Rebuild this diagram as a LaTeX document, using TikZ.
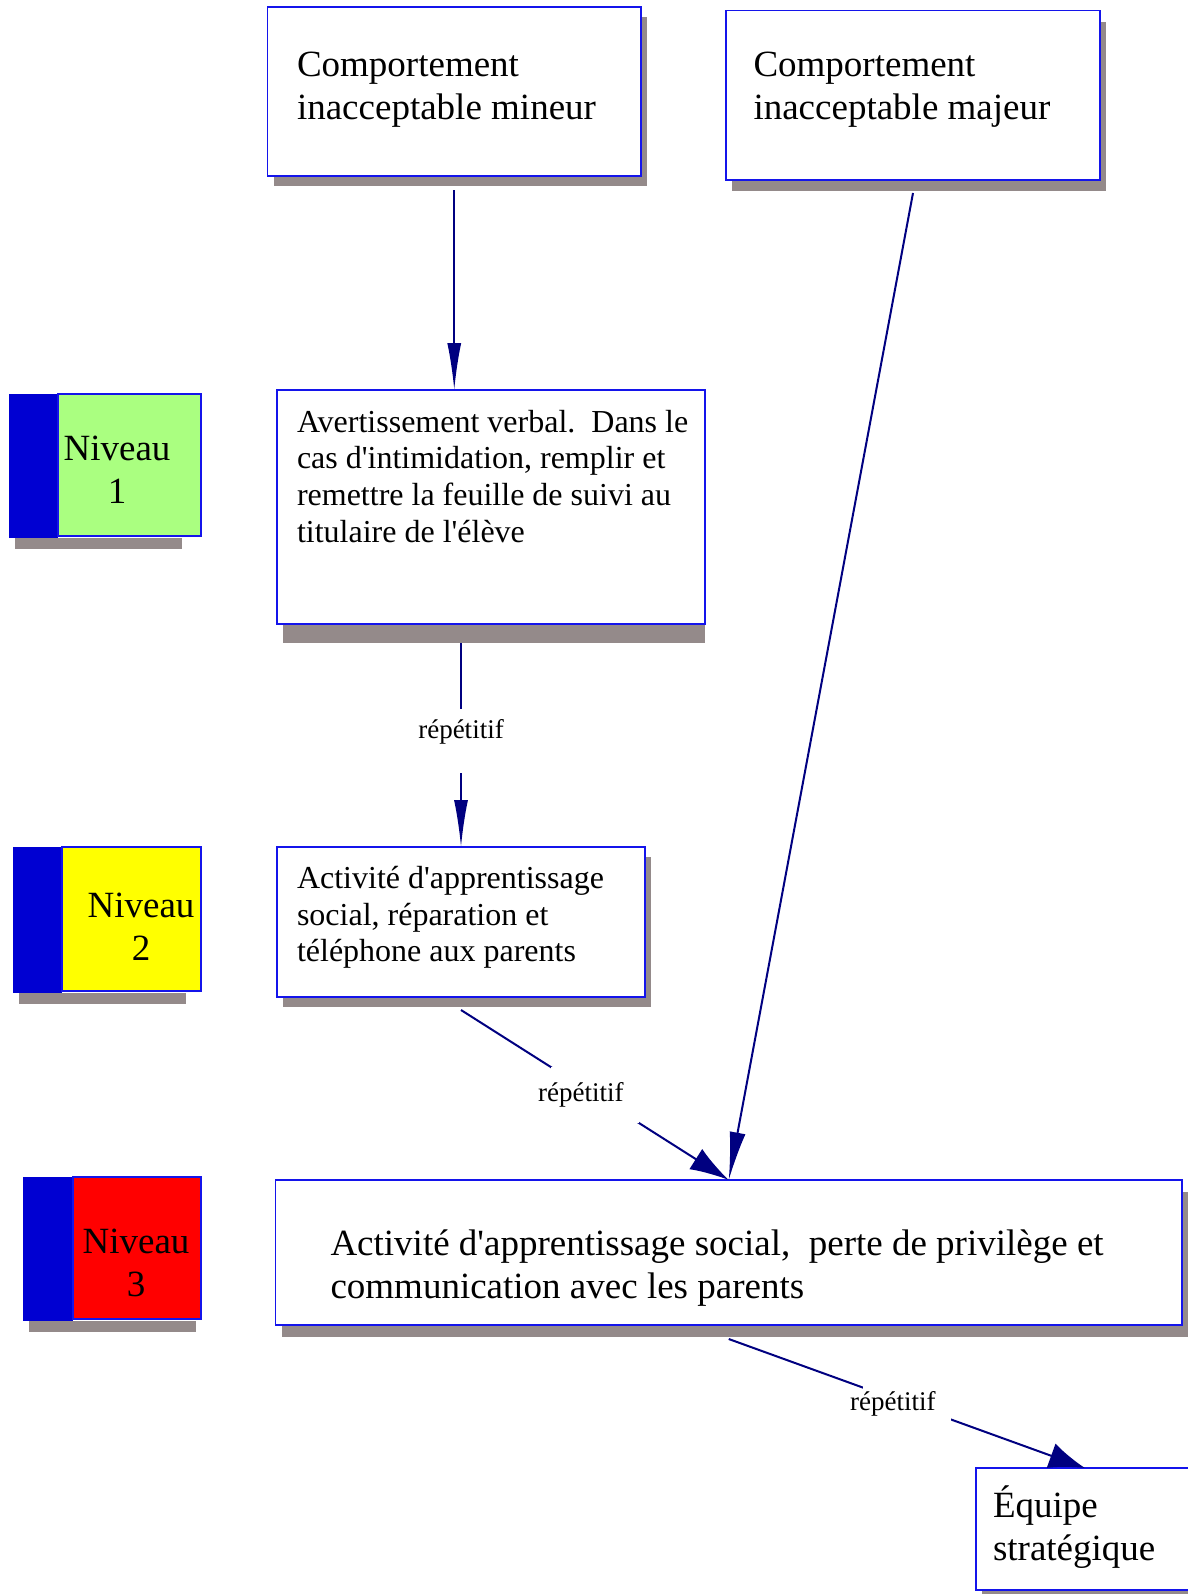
\documentclass[tikz,border=0pt]{standalone}
\usepackage{fontspec}
\setmainfont{Liberation Serif}
\usetikzlibrary{arrows.meta,calc,backgrounds}
\definecolor{boxblue}{RGB}{20,20,235}
\definecolor{flownavy}{RGB}{0,0,128}
\definecolor{shadowgray}{RGB}{148,138,138}
\definecolor{barblue}{RGB}{0,0,210}
\definecolor{lvlgreen}{RGB}{170,255,128}
\definecolor{lvlyellow}{RGB}{255,255,0}
\definecolor{lvlred}{RGB}{255,0,0}
\newcommand{\apos}{\textquotesingle}
\tikzset{
	box/.style={draw=boxblue, fill=white, line width=1.6pt, anchor=north west, align=flush left, inner ysep=0pt, outer sep=0pt},
	bigtext/.style={font=\fontsize{37}{43}\selectfont},
	smalltext/.style={font=\fontsize{32}{36.7}\selectfont},
	flow/.style={draw=flownavy, line width=2pt, -{Latex[#1]}},
	flow/.default={length=47pt,width=14pt},
	reptag/.style={fill=white, inner xsep=2pt, inner ysep=16pt, font=\fontsize{27}{31}\selectfont},
	lvlbox/.style={draw=boxblue, line width=1.2pt},
	lvltext/.style={bigtext, text width=150pt, align=center, anchor=base},
}
\begin{document}
\begin{tikzpicture}[x=1pt,y=-1pt]
	\useasboundingbox (0,0) rectangle (1188,1595);
	% behaviours
		\node[box, bigtext, inner xsep=29.5pt, text width=314.5pt, text height=69.5pt, text depth=99.5pt] (mineur) at (267.5,7) {Comportement\\inacceptable mineur};
		\node[box, bigtext, inner xsep=27.5pt, text width=319pt, text height=66.3pt, text depth=103pt] (majeur) at (726,10.7) {Comportement\\inacceptable majeur};
	% consequences
		\node[box, smalltext, inner xsep=20pt, text width=388pt, text height=42pt, text depth=192pt] (avert) at (277,390) {\mbox{Avertissement verbal.\ \ Dans le}\\cas d\apos{}intimidation, remplir et\\remettre la feuille de suivi au\\titulaire de l\apos{}élève};
		\node[box, smalltext, inner xsep=20pt, text width=328pt, text height=41.5pt, text depth=108.5pt] (social) at (277,847) {Activité d\apos{}apprentissage\\social, réparation et\\téléphone aux parents};
		\node[box, bigtext, inner xsep=55pt, text width=796.5pt, text height=75pt, text depth=70pt] (privilege) at (275.5,1180) {\mbox{Activité d\apos{}apprentissage social,\ \ perte de privilège et}\\communication avec les parents};
		\node[box, bigtext, inner xsep=17pt, text width=184pt, text height=49pt, text depth=73pt] (equipe) at (976,1468) {Équipe\\stratégique};
	% shadows
		\begin{scope}[on background layer]
			\fill[shadowgray] ($(mineur.south west)+(6,10)$) rectangle ($(mineur.north east)+(6,10)$);
			\fill[shadowgray] ($(majeur.south west)+(6,11)$) rectangle ($(majeur.north east)+(6,11)$);
			\fill[shadowgray] ($(avert.south west)+(6,0)$) rectangle ($(avert.south east)+(0,19)$);
			\fill[shadowgray] ($(social.south west)+(6,10)$) rectangle ($(social.north east)+(6,10)$);
			\fill[shadowgray] ($(privilege.south west)+(6,12)$) rectangle ($(privilege.north east)+(6,12)$);
			\fill[shadowgray] ($(equipe.south west)+(6,4)$) rectangle ($(equipe.north east)+(6,4)$);
		\end{scope}
	% levels
		\foreach \n/\bx/\cx/\top/\bot/\col/\tx/\ty in {1/9/58/394/536/lvlgreen/117/460.5, 2/13/62/847/991/lvlyellow/141/917, 3/23/73/1177/1319/lvlred/136/1253}{
			\fill[shadowgray] (\bx+6,\bot+2) rectangle (\bx+173,\bot+13);
			\fill[barblue] (\bx,\top) rectangle (\cx,\bot+2);
			\draw[lvlbox, fill=\col] (\cx,\top) rectangle (201,\bot);
			\node[lvltext] (niv\n) at (\tx,\ty) {Niveau\\\n};
		}
	% arrows
		\draw[flow] ($(mineur.south)+(0,14)$) -- (mineur.south |- avert.north);
		\draw[flow] ($(avert.south -| social.north)+(0,19)$) -- node[reptag, pos=0.48, text height=18pt, text depth=22pt, inner ysep=12pt] (rep1) {répétitif} (social.north);
		\draw[flow={length=39pt,width=24pt}] ($(social.south)+(0,13)$) -- node[reptag, inner xsep=15pt] (rep2) {\kern-28pt répétitif} (privilege.north);
		\draw[flow={length=48pt,width=16pt}] ($(majeur.south)+(0,13)$) -- (privilege.north);
		\draw[flow={length=36pt,width=26pt}] ($(privilege.south)+(0,14)$) -- node[reptag, inner xsep=15pt] (rep3) {\kern-28pt répétitif} (equipe.north);
\end{tikzpicture}
\end{document}
